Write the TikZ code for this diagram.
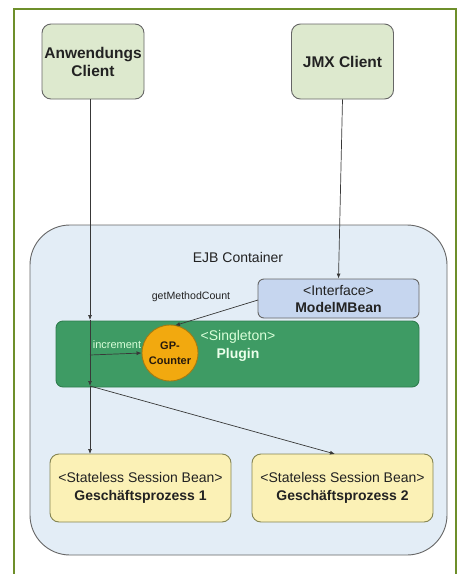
\documentclass[tikz,border=0pt]{standalone}
\usepackage{fontspec}
\setmainfont{Liberation Sans}
\usetikzlibrary{arrows.meta}
\definecolor{frameC}{HTML}{6E8F2A}
\definecolor{clientF}{HTML}{DDE9CE}
\definecolor{contF}{HTML}{E3EDF6}
\definecolor{mbeanF}{HTML}{C6D6EF}
\definecolor{plugF}{HTML}{3E9B64}
\definecolor{plugD}{HTML}{2F7D4E}
\definecolor{gpF}{HTML}{F2A90F}
\definecolor{gpD}{HTML}{A47A12}
\definecolor{beanF}{HTML}{FBF1B6}
\definecolor{boxD}{HTML}{666666}
\definecolor{txtD}{HTML}{222222}
\tikzset{
  clientbox/.style={draw=boxD, line width=0.9pt, fill=clientF, rounded corners=9pt, minimum width=102pt, minimum height=75pt, inner sep=0pt, align=center, font=\fontsize{15.5}{18}\selectfont\bfseries, text=txtD},
  beanbox/.style={draw=boxD!80!yellow, line width=0.9pt, fill=beanF, rounded corners=9pt, minimum width=181pt, minimum height=68pt, inner sep=0pt, align=center, font=\fontsize{14}{18}\selectfont, text=txtD},
  conn/.style={draw=txtD!90, line width=0.7pt},
  arr/.style={conn, -{Latex[length=5pt,width=4pt]}},
}
\begin{document}
\begin{tikzpicture}[x=1pt,y=-1pt]
\useasboundingbox (0,0) rectangle (462,574);
\fill[white] (0,0) rectangle (462,574);
% outer frame
\draw[frameC, line width=1.6pt] (14,574) -- (14,9) -- (456,9) -- (456,574);
% clients
\node[clientbox] (anw) at (93,61.5) {Anwendungs\\Client};
\node[clientbox] (jmx) at (342.5,61.5) {JMX Client};
% container
\node[draw=boxD, line width=0.9pt, fill=contF, rounded corners=40pt, minimum width=417pt, minimum height=330pt, inner sep=0pt] (cont) at (238.5,390) {};
\node[font=\fontsize{14}{16}\selectfont, text=txtD] (ejb) at (238,257) {EJB Container};
% mbean
\node[draw=boxD, line width=0.9pt, fill=mbeanF, rounded corners=6pt, minimum width=161pt, minimum height=39pt, inner sep=0pt, align=center, font=\fontsize{14}{17}\selectfont, text=txtD] (mbean) at (338.5,298.5) {<Interface>\\\textbf{ModelMBean}};
% plugin
\node[draw=plugD, line width=0.9pt, fill=plugF, rounded corners=7pt, minimum width=363pt, minimum height=66pt, inner sep=0pt] (plugin) at (237.5,354) {};
\node[align=center, font=\fontsize{14}{18}\selectfont, text=white!85!green, inner sep=0pt] (plugtxt) at (238,346) {<Singleton>\\\textbf{\color{white!92!green}Plugin}};
% GP counter
\node[circle, draw=gpD, line width=0.9pt, fill=gpF, minimum size=56pt, inner sep=0pt, align=center, font=\fontsize{11}{15}\selectfont\bfseries, text=black!80!brown] (gp) at (170,353) {GP-\\Counter};
% bean boxes
\node[beanbox] (g1) at (140.5,488) {<Stateless Session Bean>\\\textbf{Geschäftsprozess 1}};
\node[beanbox] (g2) at (342.5,488) {<Stateless Session Bean>\\\textbf{Geschäftsprozess 2}};
% coordinates
\coordinate (a0) at (90,99);
\coordinate (a1) at (90,320);
\coordinate (a2) at (90,386);
\coordinate (inc) at (90,355);
\coordinate (g1t) at (90,454);
\coordinate (g2t) at (335,454);
\coordinate (mbw) at (258,300);
\coordinate (gpt) at (175,325.5);
% connectors
\draw[arr] (a0) -- (a1);
\draw[arr] (a1) -- (a2);
\draw[arr] (a2) -- (g1t);
\draw[arr] (a2) -- (g2t);
\draw[arr] (jmx.south) -- (mbean.north);
\draw[arr] (inc) -- (gp.west);
\draw[arr] (mbw) -- (gpt);
% labels
\node[font=\fontsize{10.6}{12}\selectfont, text=txtD, inner sep=0pt] (gmc) at (191,297) {getMethodCount};
\node[font=\fontsize{11}{12}\selectfont, text=white!85!green, inner sep=0pt] (incl) at (117,345) {increment};
\end{tikzpicture}
\end{document}
